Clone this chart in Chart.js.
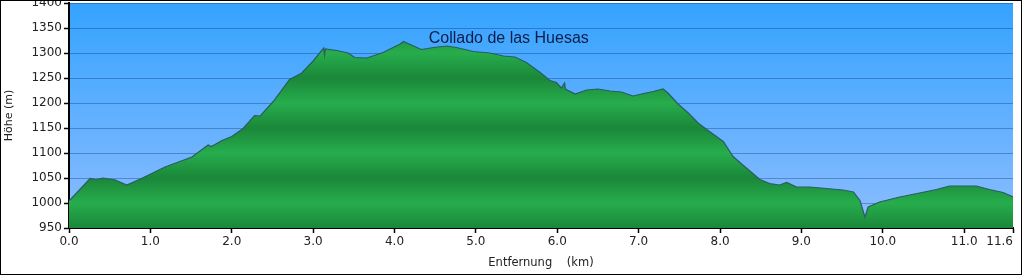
<!DOCTYPE html>
<html><head><meta charset="utf-8">
<script src="https://cdn.jsdelivr.net/npm/chart.js@4/dist/chart.umd.min.js"></script>
<style>html,body{margin:0;padding:0;background:#fff}#wrap{width:1022px;height:275px;position:relative}</style>
</head><body><div id="wrap"><canvas id="c" width="1022" height="275"></canvas></div>
<script>
const distKm = [0.00,0.03,0.26,0.33,0.42,0.57,0.71,0.89,1.18,1.51,1.71,1.75,1.88,2.00,2.14,2.28,2.35,2.51,2.71,2.86,3.00,3.13,3.14,3.15,3.29,3.43,3.51,3.66,3.86,4.07,4.11,4.33,4.48,4.64,4.76,4.97,5.17,5.34,5.48,5.62,5.79,5.91,5.99,6.05,6.09,6.10,6.22,6.36,6.50,6.65,6.79,6.93,7.06,7.18,7.30,7.36,7.49,7.61,7.73,7.87,8.04,8.16,8.28,8.49,8.61,8.73,8.82,8.94,9.10,9.31,9.51,9.64,9.72,9.78,9.82,9.96,10.21,10.45,10.66,10.82,10.99,11.15,11.31,11.48,11.60];
const elevM  = [1005,1009,1049,1047,1050,1046,1036,1049,1072,1092,1116,1113,1125,1133,1149,1175,1174,1203,1247,1260,1284,1310,1296,1308,1305,1300,1291,1290,1301,1318,1323,1307,1311,1314,1311,1303,1300,1294,1292,1281,1261,1245,1241,1230,1240,1228,1218,1226,1228,1224,1222,1214,1219,1223,1228,1220,1197,1180,1160,1143,1123,1093,1076,1047,1039,1036,1041,1032,1032,1029,1026,1022,1005,972,992,1002,1012,1020,1027,1034,1034,1034,1027,1021,1012];
const xTickValues = [0,1,2,3,4,5,6,7,8,9,10,11,11.6];
const yMin = 950, yMax = 1400, yStep = 50;
const annotationLabels = ['Collado de las Huesas'];
const annotationKm = [4.42];
const annotationElev = [1321];
const yTitle = 'Höhe (m)';
const xTitle = 'Entfernung    (km)';

const bgPlugin = {
  id: 'bg',
  beforeDraw(chart) {
    const {ctx, chartArea: a} = chart;
    const g = ctx.createLinearGradient(0, a.top, 0, a.bottom);
    g.addColorStop(0, '#34a3ff');
    g.addColorStop(1, '#8dbdff');
    ctx.save(); ctx.fillStyle = g; ctx.fillRect(a.left, a.top, a.right - a.left, a.bottom - a.top); ctx.restore();
  },
  afterDatasetsDraw(chart) {
    const {ctx, scales: {x, y}} = chart;
    ctx.save();
    ctx.font = '16px "Liberation Sans", Arial, sans-serif';
    ctx.fillStyle = '#0c1d48';
    ctx.textAlign = 'left'; ctx.textBaseline = 'alphabetic';
    annotationLabels.forEach((t, i) => ctx.fillText(t, x.getPixelForValue(annotationKm[i]), y.getPixelForValue(annotationElev[i])));
    ctx.restore();
  },
  afterDraw(chart) {
    const ctx = chart.ctx;
    ctx.save(); ctx.strokeStyle = '#000'; ctx.lineWidth = 1; ctx.strokeRect(0.5, 0.5, chart.width - 1, chart.height - 1); ctx.restore();
  }
};

const tickFont = {family: '"DejaVu Sans", Verdana, sans-serif', size: 12};
const lastX = xTickValues[xTickValues.length - 1];
new Chart(document.getElementById('c'), {
  type: 'line',
  data: {
    datasets: [{
      data: distKm.map((d, i) => ({x: d, y: elevM[i]})),
      borderColor: '#2b5c63', borderWidth: 1.2, pointRadius: 0, tension: 0,
      fill: 'start',
      backgroundColor: (c) => {
        const ch = c.chart, a = ch.chartArea;
        if (!a) return '#22a84a';
        const ys = ch.scales.y;
        const g = ch.ctx.createLinearGradient(0, a.top, 0, a.bottom);
        for (let v = yMax; v >= yMin; v -= yStep) {
          const t = Math.min(1, Math.max(0, (ys.getPixelForValue(v) - a.top) / (a.bottom - a.top)));
          const dark = ((v - yMin) % 100) === 0;
          g.addColorStop(t, dark ? '#1a8739' : '#27ad4d');
        }
        return g;
      }
    }]
  },
  options: {
    responsive: false, animation: false, devicePixelRatio: 1,
    layout: {padding: {left: 0, top: 3, right: 9, bottom: 0}},
    plugins: {legend: {display: false}, tooltip: {enabled: false}},
    scales: {
      x: {
        type: 'linear', min: 0, max: lastX, z: 1,
        afterBuildTicks: (s) => { s.ticks = xTickValues.map(v => ({value: v})); },
        afterFit: (s) => { s.height = 47; s.paddingLeft = 0; s.paddingRight = 0; },
        ticks: {autoSkip: false, maxRotation: 0, padding: 2, color: '#222', font: tickFont,
          callback: (v) => Number(v).toFixed(1) + (v === lastX ? '       ' : '')},
        grid: {drawOnChartArea: false, drawTicks: true, tickLength: 5, tickColor: '#000', tickWidth: 1.5},
        border: {display: true, color: '#000', width: 2},
        title: {display: true, text: xTitle, color: '#222', font: {family: '"DejaVu Sans", Verdana, sans-serif', size: 11.5}, padding: {top: 0, bottom: 5}}
      },
      y: {
        min: yMin, max: yMax, z: 1,
        afterFit: (s) => { s.width = 69; s.paddingTop = 0; s.paddingBottom = 0; },
        ticks: {stepSize: yStep, padding: 2, color: '#222', font: tickFont, callback: (v) => String(v)},
        grid: {color: 'rgba(0,35,110,0.33)', lineWidth: 1, tickLength: 5, tickColor: '#000', tickWidth: 1.5},
        border: {display: true, color: '#000', width: 2},
        title: {display: true, text: yTitle, color: '#222', font: {family: '"DejaVu Sans", Verdana, sans-serif', size: 11}, padding: {top: 3, bottom: 0}}
      }
    }
  },
  plugins: [bgPlugin]
});
</script></body></html>
